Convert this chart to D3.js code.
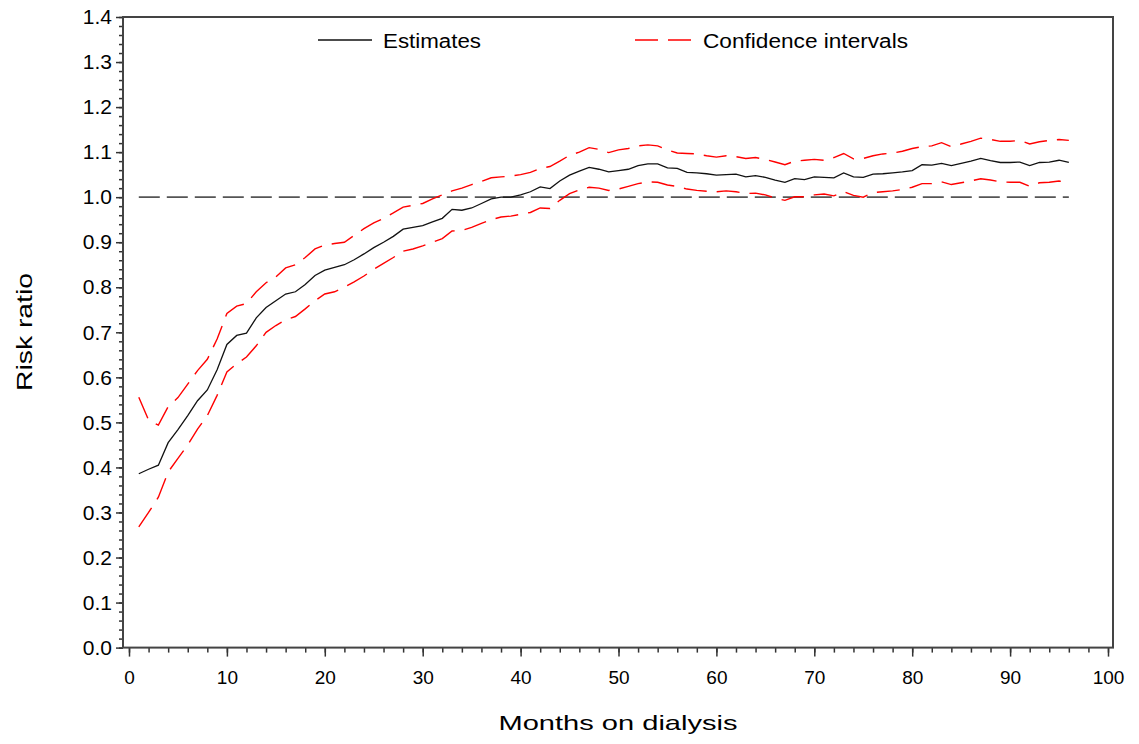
<!DOCTYPE html>
<html lang="en">
<head>
<meta charset="utf-8" />
<title>Risk ratio by months on dialysis</title>
<script src="https://cdn.jsdelivr.net/npm/d3@7"></script>
<style>
  body { margin: 0; background: #fff; }
  svg text { font-family: "Liberation Sans", Arial, Helvetica, sans-serif; fill: #000; }
  .frame { fill: none; stroke: #444; stroke-width: 2px; }
  .axis path.domain { display: none; }
  .axis line { stroke: #333; stroke-width: 1.5px; }
  .est { fill: none; stroke: #111; stroke-width: 1.3px; }
  .ci { fill: none; stroke: #ff0000; stroke-width: 1.4px; stroke-dasharray: 23,10; }
  .ref { fill: none; stroke: #555; stroke-width: 1.6px; stroke-dasharray: 21,7; }
</style>
</head>
<body>
<div id="chart"></div>
<script>
// months 1..96
var months = d3.range(1, 97);

// point estimates of the risk ratio
var estimates = [
  0.386, 0.396, 0.405, 0.455, 0.484, 0.515, 0.548, 0.572, 0.617, 0.673,
  0.693, 0.698, 0.732, 0.755, 0.770, 0.785, 0.790, 0.806, 0.826, 0.838,
  0.844, 0.850, 0.861, 0.874, 0.888, 0.900, 0.913, 0.929, 0.933, 0.937,
  0.945, 0.953, 0.973, 0.971, 0.976, 0.986, 0.996, 1.000, 1.000, 1.005,
  1.012, 1.023, 1.019, 1.036, 1.049, 1.058, 1.066, 1.062, 1.056, 1.059,
  1.062, 1.070, 1.074, 1.074, 1.065, 1.064, 1.055, 1.054, 1.052, 1.049,
  1.050, 1.051, 1.045, 1.048, 1.044, 1.038, 1.033, 1.041, 1.039, 1.045,
  1.044, 1.043, 1.054, 1.045, 1.044, 1.051, 1.052, 1.054, 1.056, 1.059,
  1.072, 1.071, 1.075, 1.070, 1.075, 1.080, 1.086, 1.081, 1.077, 1.077,
  1.078, 1.070, 1.077, 1.078, 1.082, 1.077
];

// upper confidence limit
var upper = [
  0.556, 0.505, 0.494, 0.535, 0.555, 0.585, 0.615, 0.640, 0.685, 0.742,
  0.758, 0.764, 0.790, 0.810, 0.823, 0.843, 0.850, 0.866, 0.885, 0.894,
  0.897, 0.900, 0.915, 0.930, 0.943, 0.953, 0.965, 0.978, 0.982, 0.986,
  0.996, 1.005, 1.014, 1.020, 1.028, 1.035, 1.043, 1.045, 1.047, 1.050,
  1.055, 1.064, 1.068, 1.080, 1.093, 1.100, 1.110, 1.106, 1.099, 1.105,
  1.108, 1.114, 1.116, 1.114, 1.105, 1.098, 1.097, 1.096, 1.092, 1.089,
  1.092, 1.090, 1.086, 1.088, 1.084, 1.078, 1.072, 1.080, 1.082, 1.084,
  1.082, 1.088, 1.097, 1.085, 1.086, 1.092, 1.096, 1.098, 1.102, 1.108,
  1.112, 1.114, 1.121, 1.112, 1.118, 1.124, 1.131, 1.128, 1.124, 1.124,
  1.126, 1.118, 1.123, 1.126, 1.128, 1.126
];

// lower confidence limit
var lower = [
  0.268, 0.300, 0.334, 0.390, 0.420, 0.450, 0.485, 0.515, 0.560, 0.612,
  0.630, 0.645, 0.670, 0.700, 0.715, 0.728, 0.735, 0.752, 0.770, 0.785,
  0.790, 0.800, 0.812, 0.825, 0.840, 0.853, 0.866, 0.880, 0.885, 0.892,
  0.900, 0.908, 0.925, 0.926, 0.933, 0.942, 0.950, 0.956, 0.958, 0.962,
  0.966, 0.976, 0.975, 0.993, 1.008, 1.016, 1.022, 1.020, 1.015, 1.018,
  1.024, 1.030, 1.034, 1.033, 1.027, 1.024, 1.018, 1.015, 1.013, 1.012,
  1.014, 1.012, 1.008, 1.009, 1.005, 0.998, 0.993, 1.001, 1.001, 1.005,
  1.007, 1.003, 1.012, 1.004, 1.000, 1.010, 1.012, 1.014, 1.017, 1.022,
  1.030, 1.030, 1.034, 1.028, 1.032, 1.036, 1.041, 1.038, 1.034, 1.033,
  1.033, 1.024, 1.032, 1.033, 1.036, 1.030
];

// reference line at a risk ratio of 1
var refValue = 1.0;
var refRange = [1, 96];

// axis ticks
var xTicks = d3.range(0, 101, 10);
var xMinor = d3.range(0, 101, 2);
var yTicks = d3.range(0, 15).map(function(i) { return i / 10; });
var yMinor = d3.range(0, 71).map(function(i) { return i / 50; });

var legendLabels = ["Estimates", "Confidence intervals"];

// size and margins
var margin = {top: 17, left: 123},
    width = 990,
    height = 630.6;

var svg = d3.select("#chart").append("svg")
    .attr("width", 1139)
    .attr("height", 744);

var g = svg.append("g")
    .attr("transform", "translate(" + margin.left + "," + margin.top + ")");

// scales
var x = d3.scaleLinear().domain([0, 100]).range([6, 985]);
var y = d3.scaleLinear().domain([0, 1.4]).range([height, 0]);

// minor ticks first, majors on top
g.append("g")
    .attr("class", "axis")
    .attr("transform", "translate(0," + height + ")")
    .call(d3.axisBottom(x).tickValues(xMinor).tickSize(5).tickFormat(""));

g.append("g")
    .attr("class", "axis xaxis")
    .attr("transform", "translate(0," + height + ")")
    .call(d3.axisBottom(x).tickValues(xTicks).tickSize(9).tickPadding(14)
      .tickFormat(d3.format("d")))
    .selectAll("text")
    .style("font-size", "19px");

g.append("g")
    .attr("class", "axis")
    .call(d3.axisLeft(y).tickValues(yMinor).tickSize(4).tickFormat(""));

g.append("g")
    .attr("class", "axis yaxis")
    .call(d3.axisLeft(y).tickValues(yTicks).tickSize(7).tickPadding(4)
      .tickFormat(d3.format(".1f")))
    .selectAll("text")
    .style("font-size", "21px");

// frame
g.append("rect")
    .attr("class", "frame")
    .attr("x", 0)
    .attr("y", 0)
    .attr("width", width)
    .attr("height", height);

// reference line
g.append("line")
    .attr("class", "ref")
    .attr("x1", x(refRange[0]))
    .attr("x2", x(refRange[1]))
    .attr("y1", y(refValue))
    .attr("y2", y(refValue));

// lines
var line = d3.line()
    .x(function(d, i) { return x(months[i]); })
    .y(function(d) { return y(d); });

g.append("path").datum(upper).attr("class", "ci").attr("d", line);
g.append("path").datum(lower).attr("class", "ci").attr("d", line);
g.append("path").datum(estimates).attr("class", "est").attr("d", line);

// legend
var leg = svg.append("g");
leg.append("line")
    .attr("class", "est")
    .attr("x1", 318).attr("x2", 372)
    .attr("y1", 40).attr("y2", 40);
leg.append("text")
    .attr("x", 383).attr("y", 48)
    .attr("textLength", 98).attr("lengthAdjust", "spacingAndGlyphs")
    .style("font-size", "20px")
    .text(legendLabels[0]);
leg.append("line")
    .attr("class", "ci")
    .attr("x1", 635).attr("x2", 692)
    .attr("y1", 40).attr("y2", 40);
leg.append("text")
    .attr("x", 703).attr("y", 48)
    .attr("textLength", 205).attr("lengthAdjust", "spacingAndGlyphs")
    .style("font-size", "20px")
    .text(legendLabels[1]);

// axis titles
svg.append("text")
    .attr("x", 618).attr("y", 730)
    .attr("text-anchor", "middle")
    .attr("textLength", 239).attr("lengthAdjust", "spacingAndGlyphs")
    .style("font-size", "21px")
    .text("Months on dialysis");

svg.append("text")
    .attr("transform", "translate(32,332) rotate(-90)")
    .attr("text-anchor", "middle")
    .attr("textLength", 118).attr("lengthAdjust", "spacingAndGlyphs")
    .style("font-size", "22px")
    .text("Risk ratio");
</script>
</body>
</html>
